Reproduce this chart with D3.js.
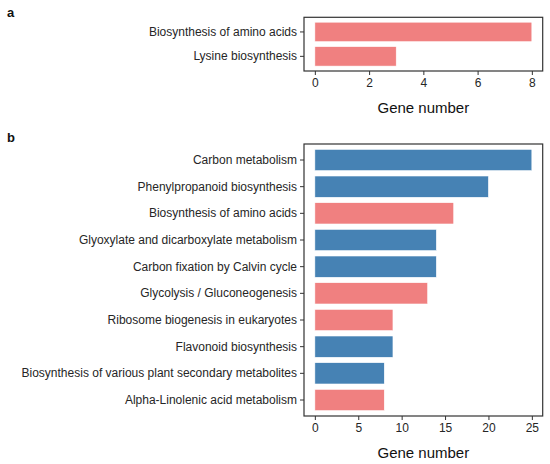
<!DOCTYPE html>
<html>
<head>
<meta charset="utf-8">
<script src="https://cdn.jsdelivr.net/npm/d3@7"></script>
<style>
  body { margin: 0; background: #fff; }
  svg { display: block; font-family: "Liberation Sans", Arial, sans-serif; }
  .tick text { fill: #262626; font-size: 12px; }
  .tick line { stroke: #333; }
</style>
</head>
<body>
<svg id="chart" width="550" height="464"></svg>
<script>
// panel a
var aPathways = ["Biosynthesis of amino acids", "Lysine biosynthesis"];
var aGenes = [8, 3];
var aGroups = ["red", "red"];
var aTicks = [0, 2, 4, 6, 8];

// panel b
var bPathways = [
  "Carbon metabolism",
  "Phenylpropanoid biosynthesis",
  "Biosynthesis of amino acids",
  "Glyoxylate and dicarboxylate metabolism",
  "Carbon fixation by Calvin cycle",
  "Glycolysis / Gluconeogenesis",
  "Ribosome biogenesis in eukaryotes",
  "Flavonoid biosynthesis",
  "Biosynthesis of various plant secondary metabolites",
  "Alpha-Linolenic acid metabolism"
];
var bGenes = [25, 20, 16, 14, 14, 13, 9, 9, 8, 8];
var bGroups = ["blue", "blue", "red", "blue", "blue", "red", "red", "blue", "blue", "red"];
var bTicks = [0, 5, 10, 15, 20, 25];

var colour = d3.scaleOrdinal().domain(["red", "blue"]).range(["#F08080", "#4682B4"]);

var svg = d3.select("#chart");

/**
 * Draws one horizontal bar panel in a box
 */
function drawPanel(letter, letterY, cats, vals, groups, ticks, box) {
    var max = d3.max(ticks);
    var x = d3.scaleLinear()
        .domain([-0.05 * max, 1.05 * max])
        .range([box.x0, box.x1]);
    var y = d3.scaleBand()
        .domain(cats)
        .range([box.y0, box.y1])
        .paddingInner(0.2)
        .paddingOuter(0.2);

    var g = svg.append("g");

    g.selectAll("rect.bar").data(cats)
        .enter().append("rect")
        .attr("class", "bar")
        .attr("x", x(0))
        .attr("y", function(d) { return y(d); })
        .attr("width", function(d, i) { return x(vals[i]) - x(0); })
        .attr("height", y.bandwidth())
        .attr("fill", function(d, i) { return colour(groups[i]); })
        .attr("stroke", "#fff")
        .attr("stroke-width", 0.6);

    var xAxis = g.append("g")
        .attr("transform", "translate(0," + box.y1 + ")")
        .call(d3.axisBottom(x).tickValues(ticks).tickSize(4));
    xAxis.select(".domain").remove();
    xAxis.selectAll(".tick text").attr("y", 16).attr("dy", null);

    var yAxis = g.append("g")
        .attr("transform", "translate(" + box.x0 + ",0)")
        .call(d3.axisLeft(y).tickSize(4).tickPadding(3));
    yAxis.select(".domain").remove();

    g.append("rect")
        .attr("x", box.x0)
        .attr("y", box.y0)
        .attr("width", box.x1 - box.x0)
        .attr("height", box.y1 - box.y0)
        .attr("fill", "none")
        .attr("stroke", "#333")
        .attr("stroke-width", 1.2);

    g.append("text")
        .attr("x", (box.x0 + box.x1) / 2)
        .attr("y", box.y1 + 41.5)
        .attr("text-anchor", "middle")
        .attr("font-size", 15)
        .attr("fill", "#111")
        .text("Gene number");

    g.append("text")
        .attr("x", 7)
        .attr("y", letterY)
        .attr("font-size", 13)
        .attr("font-weight", "bold")
        .attr("fill", "#111")
        .text(letter);
}

drawPanel("a", 16.7, aPathways, aGenes, aGroups, aTicks, { x0: 304, x1: 542.7, y0: 17.3, y1: 71 });
drawPanel("b", 141.7, bPathways, bGenes, bGroups, bTicks, { x0: 304, x1: 542.7, y0: 144, y1: 416 });
</script>
</body>
</html>
